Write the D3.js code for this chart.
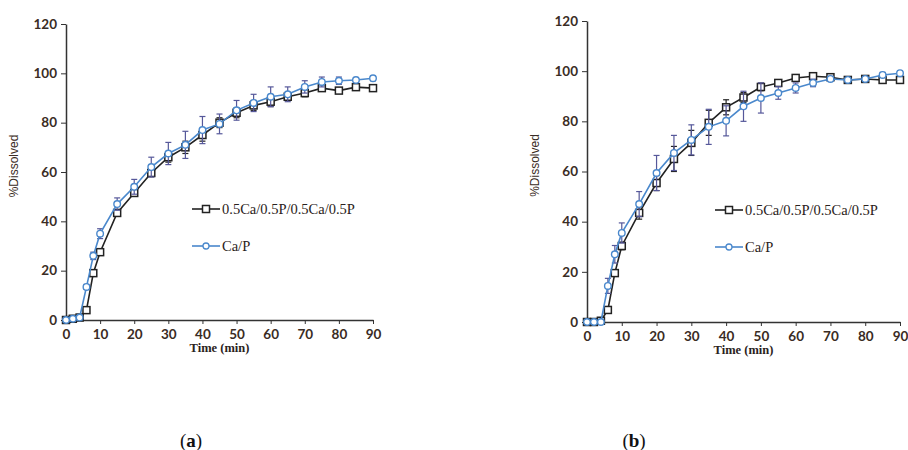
<!DOCTYPE html>
<html>
<head>
<meta charset="utf-8">
<script src="https://cdn.jsdelivr.net/npm/d3@7"></script>
<style>
  body { margin: 0; background: #fff; }
  svg { display: block; }
  .tick text { font-family: Lato, "Open Sans", sans-serif; font-weight: 700; font-size: 13.5px; fill: #3a2c24; }
  .axis path, .axis line { stroke: #333; }
</style>
</head>
<body>
<div id="chart"></div>
<script>
// sampling times (min), shared by both panels
const times = [0, 2, 4, 6, 8, 10, 15, 20, 25, 30, 35, 40, 45, 50, 55, 60, 65, 70, 75, 80, 85, 90];
const yTicks = [0, 20, 40, 60, 80, 100, 120];
const xTicks = [0, 10, 20, 30, 40, 50, 60, 70, 80, 90];
const seriesNames = ["0.5Ca/0.5P/0.5Ca/0.5P", "Ca/P"];

// panel (a)
const aLayered = [0, 0.5, 1, 4, 19, 27.5, 43.4, 51.5, 59.6, 66, 70, 75, 80, 84, 87, 88.5, 90.5, 92, 94, 93, 94.4, 94];
const aLayeredErr = [0, 0, 0, 1, 1.2, 1.2, 1.2, 1.2, 1.5, 2, 2.5, 2.5, 2, 2, 2, 2, 1.5, 1.5, 1, 1, 1, 1];
const aCaP = [0, 0.5, 1, 13.4, 26, 35, 47, 54, 62, 67.5, 71, 77, 79.5, 85, 88, 90.5, 91.5, 94.5, 96.5, 97, 97.3, 98];
const aCaPErr = [0, 0, 0, 1, 1.5, 2, 2.5, 3, 4, 4.5, 5.5, 5.5, 4, 4, 3.5, 4, 3, 2.5, 2, 1.5, 1, 1];

// panel (b)
const bLayered = [0, 0, 0.5, 4.8, 19.5, 30.3, 43.5, 55.4, 65, 71.4, 79.4, 85.6, 89.5, 93.7, 95.3, 97.3, 98, 97.6, 96.5, 96.9, 96.5, 96.5];
const bLayeredErr = [0, 0, 0, 1, 1, 1.5, 2.5, 3, 5, 5, 5, 3, 2, 1.5, 1, 1, 1, 1, 1, 1, 1, 1];
const bCaP = [0, 0, 0, 14.4, 27, 35.5, 47, 59.4, 67.4, 72.6, 77.8, 80.2, 86, 89.3, 91.3, 93.3, 95.3, 96.9, 96.5, 96.9, 98.5, 99.2];
const bCaPErr = [0, 0, 0, 3, 3.5, 4, 5, 7, 7, 6, 7, 6, 6, 6, 2.5, 2, 1.5, 1, 1, 1, 1, 1];

const width = 908, height = 450;
const svg = d3.select("#chart").append("svg")
  .attr("width", width)
  .attr("height", height);

const black = "#222", blue = "#4a88cc", blueErr = "#56589a";

function drawPanel(cfg) {
  const g = svg.append("g").attr("transform", "translate(" + cfg.left + "," + cfg.top + ")");

  const x = d3.scaleLinear().domain([0, 90]).range([0, cfg.w]);
  const y = d3.scaleLinear().domain([0, 120]).range([cfg.h, 0]);

  g.append("g")
    .attr("class", "axis")
    .call(d3.axisLeft(y).tickValues(yTicks).tickSize(5).tickSizeOuter(0).tickPadding(4))
    .call(s => s.select(".domain").attr("stroke-width", 1.5));

  g.append("g")
    .attr("class", "axis")
    .attr("transform", "translate(0," + cfg.h + ")")
    .call(d3.axisBottom(x).tickValues(xTicks).tickSize(4).tickSizeOuter(0).tickPadding(5))
    .call(s => s.select(".domain").attr("stroke-width", 1.5));

  // axis titles
  g.append("text")
    .attr("transform", "translate(" + cfg.yLabelX + "," + (cfg.h / 2 - 6) + ") rotate(-90)")
    .attr("text-anchor", "middle")
    .style("font-family", "Liberation Sans, Arial, sans-serif")
    .style("font-size", "12px")
    .attr("fill", "#3a2c24")
    .text("%Dissolved");

  g.append("text")
    .attr("x", cfg.w / 2)
    .attr("y", cfg.h + 32)
    .attr("text-anchor", "middle")
    .style("font-family", "Liberation Serif, serif")
    .style("font-size", "12.5px")
    .style("font-weight", "bold")
    .attr("fill", "#2a2220")
    .text("Time (min)");

  const series = [
    { vals: cfg.layered, err: cfg.layeredErr, color: black, errColor: black, shape: "square" },
    { vals: cfg.cap, err: cfg.capErr, color: blue, errColor: blueErr, shape: "circle" }
  ];

  [0, 1].forEach(i => {
    const s = series[i];
    const pts = times.map((t, k) => ({ t: t, v: s.vals[k], e: s.err[k] }));

    // error bars
    const eb = g.append("g").attr("stroke", s.errColor).attr("stroke-width", 1.2);
    eb.selectAll("line.v").data(pts.filter(d => d.e > 0)).enter().append("line")
      .attr("x1", d => x(d.t)).attr("x2", d => x(d.t))
      .attr("y1", d => y(d.v - d.e)).attr("y2", d => y(d.v + d.e));
    eb.selectAll("line.top").data(pts.filter(d => d.e > 0)).enter().append("line")
      .attr("x1", d => x(d.t) - 3).attr("x2", d => x(d.t) + 3)
      .attr("y1", d => y(d.v + d.e)).attr("y2", d => y(d.v + d.e));
    eb.selectAll("line.bot").data(pts.filter(d => d.e > 0)).enter().append("line")
      .attr("x1", d => x(d.t) - 3).attr("x2", d => x(d.t) + 3)
      .attr("y1", d => y(d.v - d.e)).attr("y2", d => y(d.v - d.e));

    g.append("path")
      .datum(pts)
      .attr("fill", "none")
      .attr("stroke", s.color)
      .attr("stroke-width", 1.6)
      .attr("d", d3.line().x(d => x(d.t)).y(d => y(d.v)));

    if (s.shape === "square") {
      g.selectAll(null).data(pts).enter().append("rect")
        .attr("x", d => x(d.t) - 3.5).attr("y", d => y(d.v) - 3.5)
        .attr("width", 7).attr("height", 7)
        .attr("fill", "#fff").attr("stroke", black).attr("stroke-width", 1.5);
    } else {
      g.selectAll(null).data(pts).enter().append("circle")
        .attr("cx", d => x(d.t)).attr("cy", d => y(d.v)).attr("r", 3.3)
        .attr("fill", "#fff").attr("stroke", blue).attr("stroke-width", 1.4);
    }
  });

  // legend
  const lg = g.append("g").attr("transform", "translate(" + cfg.legX + "," + cfg.legY + ")");
  [0, 1].forEach(i => {
    const s = series[i];
    const row = lg.append("g").attr("transform", "translate(0," + (i * 37) + ")");
    row.append("line").attr("x1", 0).attr("x2", cfg.legLine).attr("y1", 0).attr("y2", 0)
      .attr("stroke", s.color).attr("stroke-width", 1.6);
    if (s.shape === "square") {
      row.append("rect").attr("x", cfg.legLine / 2 - 3.5).attr("y", -3.5).attr("width", 7).attr("height", 7)
        .attr("fill", "#fff").attr("stroke", black).attr("stroke-width", 1.5);
    } else {
      row.append("circle").attr("cx", cfg.legLine / 2).attr("cy", 0).attr("r", 3)
        .attr("fill", "#fff").attr("stroke", blue).attr("stroke-width", 1.3);
    }
    row.append("text")
      .attr("x", cfg.legLine + 2).attr("y", 5)
      .style("font-family", "Liberation Serif, serif")
      .style("font-size", "14.5px")
      .attr("fill", "#2a2220")
      .text(seriesNames[i]);
  });

  // panel letter
  svg.append("text")
    .attr("x", cfg.letterX).attr("y", 447)
    .attr("text-anchor", "middle")
    .style("font-family", "Liberation Serif, serif")
    .style("font-size", "19px")
    .attr("fill", "#111")
    .html("(<tspan font-weight='bold'>" + cfg.letter + "</tspan>)");
}

drawPanel({
  left: 66, top: 24, w: 307, h: 296,
  layered: aLayered, layeredErr: aLayeredErr, cap: aCaP, capErr: aCaPErr,
  yLabelX: -48, legX: 126, legY: 185, legLine: 28,
  letter: "a", letterX: 191
});

drawPanel({
  left: 587, top: 21, w: 313, h: 301,
  layered: bLayered, layeredErr: bLayeredErr, cap: bCaP, capErr: bCaPErr,
  yLabelX: -48, legX: 128, legY: 189, legLine: 28,
  letter: "b", letterX: 634
});
</script>
</body>
</html>
